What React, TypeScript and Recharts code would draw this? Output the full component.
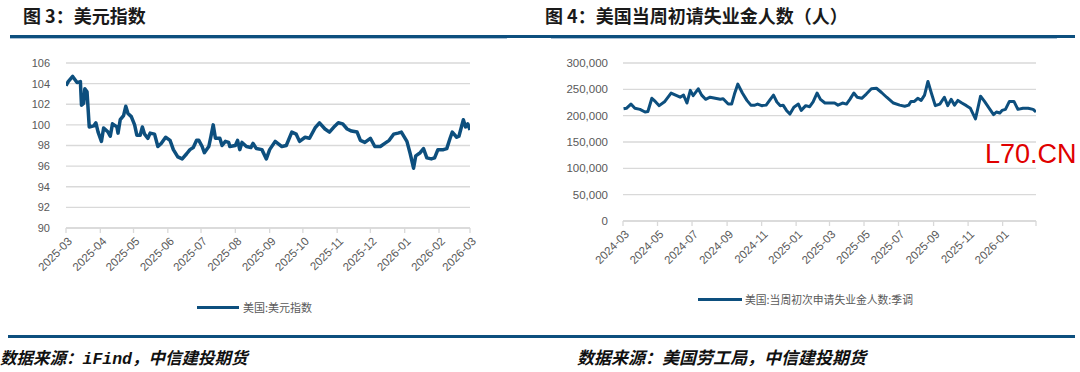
import React from 'react';
import { LineChart, Line, XAxis, YAxis, CartesianGrid } from 'recharts';

// ---------- Figure 3: US dollar index ----------
const DXY_DATES = [
  '2025-03-01','2025-03-03','2025-03-07','2025-03-11','2025-03-14','2025-03-15','2025-03-17','2025-03-18','2025-03-20','2025-03-22','2025-03-26','2025-03-28','2025-03-30',
  '2025-04-02','2025-04-04','2025-04-08','2025-04-10','2025-04-12','2025-04-16','2025-04-17','2025-04-19','2025-04-22','2025-04-24','2025-04-26','2025-04-29',
  '2025-05-02','2025-05-04','2025-05-07','2025-05-09','2025-05-11','2025-05-14','2025-05-16','2025-05-20','2025-05-23','2025-05-26','2025-05-30',
  '2025-06-03','2025-06-06','2025-06-10','2025-06-14','2025-06-18','2025-06-21','2025-06-24','2025-06-27','2025-06-29',
  '2025-07-02','2025-07-04','2025-07-08','2025-07-10','2025-07-12','2025-07-14','2025-07-18','2025-07-20','2025-07-23','2025-07-26','2025-07-27',
  '2025-08-01','2025-08-03','2025-08-05','2025-08-07','2025-08-11','2025-08-15','2025-08-17','2025-08-20','2025-08-25','2025-08-29',
  '2025-09-01','2025-09-06','2025-09-12','2025-09-16','2025-09-21','2025-09-25','2025-09-28',
  '2025-10-03','2025-10-07','2025-10-12','2025-10-16','2025-10-21','2025-10-25','2025-10-30',
  '2025-11-02','2025-11-06','2025-11-10','2025-11-14','2025-11-19','2025-11-22','2025-11-26',
  '2025-12-01','2025-12-05','2025-12-10','2025-12-14','2025-12-18','2025-12-22','2025-12-26','2025-12-29',
  '2026-01-03','2026-01-06','2026-01-09','2026-01-11','2026-01-15','2026-01-18','2026-01-21','2026-01-25','2026-01-28','2026-01-31',
  '2026-02-05','2026-02-08','2026-02-11','2026-02-13','2026-02-17','2026-02-19','2026-02-23','2026-02-25','2026-02-27','2026-03-01',
];
const DXY_VALUES = [
  103.8,104.2,104.7,104.1,104.2,101.9,102.1,103.5,103.2,99.8,
  99.9,100.2,99.3,98.4,99.7,99.3,98.9,100.1,99.8,99.2,
  100.5,100.9,101.8,101.1,100.8,100.0,99.0,99.0,99.8,99.1,
  98.7,99.2,99.1,97.9,98.2,98.8,98.5,97.6,96.9,96.7,
  97.2,97.6,97.8,98.5,98.5,97.9,97.3,97.9,98.9,100.0,
  98.7,98.7,98.0,98.4,98.3,97.9,98.0,98.5,97.6,98.3,
  97.9,97.8,98.2,97.7,97.6,96.7,97.6,98.4,97.9,98.0,
  99.3,99.1,98.4,98.8,98.7,99.7,100.2,99.6,99.3,99.9,
  100.2,100.1,99.6,99.4,99.3,98.5,98.3,98.7,97.9,97.9,
  98.2,98.5,99.1,99.2,99.3,98.4,97.2,95.8,97.0,97.3,
  97.7,96.8,96.7,96.8,97.6,97.6,97.7,98.7,99.3,98.8,
  98.9,100.5,99.8,100.1,99.5,
];
const DXY_TICK_DATES = [
  '2025-03-01','2025-04-01','2025-05-01','2025-06-01','2025-07-01','2025-08-01','2025-09-01',
  '2025-10-01','2025-11-01','2025-12-01','2026-01-01','2026-02-01','2026-03-01',
];
const DXY_Y_TICKS = [90, 92, 94, 96, 98, 100, 102, 104, 106];

// ---------- Figure 4: US initial jobless claims ----------
const CLAIMS_DATES = [
  '2024-03-02','2024-03-07','2024-03-15','2024-03-22','2024-03-31','2024-04-09','2024-04-14','2024-04-21','2024-04-27',
  '2024-05-04','2024-05-14','2024-05-25','2024-06-02','2024-06-10','2024-06-16','2024-06-22','2024-06-28',
  '2024-07-03','2024-07-12','2024-07-18','2024-07-25','2024-08-02','2024-08-11','2024-08-20','2024-08-25',
  '2024-09-03','2024-09-09','2024-09-14','2024-09-20','2024-09-28','2024-10-06','2024-10-13','2024-10-20','2024-10-25',
  '2024-11-01','2024-11-09','2024-11-17','2024-11-22','2024-11-28','2024-12-04','2024-12-09','2024-12-15','2024-12-21','2024-12-28',
  '2025-01-05','2025-01-10','2025-01-18','2025-01-25','2025-01-31','2025-02-07','2025-02-13','2025-02-21',
  '2025-03-01','2025-03-10','2025-03-16','2025-03-24','2025-03-31','2025-04-06','2025-04-13','2025-04-19','2025-04-27',
  '2025-05-05','2025-05-14','2025-05-23','2025-06-01','2025-06-10','2025-06-22',
  '2025-07-03','2025-07-12','2025-07-19','2025-07-23','2025-07-29','2025-08-04','2025-08-10','2025-08-16','2025-08-22','2025-08-28',
  '2025-09-04','2025-09-12','2025-09-20','2025-09-26','2025-10-02','2025-10-08','2025-10-14','2025-10-21','2025-10-29',
  '2025-11-05','2025-11-14','2025-11-18','2025-11-23','2025-11-30','2025-12-09','2025-12-16','2025-12-21','2025-12-27','2025-12-31',
  '2026-01-06','2026-01-13','2026-01-21','2026-01-28','2026-02-06','2026-02-15','2026-02-24','2026-03-01',
];
const CLAIMS_VALUES = [
  213000,214000,222000,214000,212000,207000,208000,233000,227000,219000,
  227000,243000,239000,235000,239000,224000,248000,238000,251000,239000,
  231000,235000,233000,231000,232000,222000,222000,241000,260000,243000,
  229000,220000,220000,222000,219000,220000,232000,239000,226000,219000,
  220000,210000,203000,216000,222000,210000,219000,217000,226000,243000,
  231000,224000,224000,224000,220000,224000,222000,231000,243000,235000,
  233000,241000,251000,252000,244000,235000,224000,220000,218000,220000,
  227000,227000,233000,229000,239000,265000,243000,219000,222000,235000,
  219000,231000,220000,229000,224000,219000,214000,194000,213000,237000,
  227000,213000,202000,207000,205000,210000,212000,227000,227000,212000,
  214000,214000,212000,207000,
];
const CLAIMS_TICK_DATES = [
  '2024-03-01','2024-05-01','2024-07-01','2024-09-01','2024-11-01','2025-01-01','2025-03-01',
  '2025-05-01','2025-07-01','2025-09-01','2025-11-01','2026-01-01','2026-03-01',
];
const CLAIMS_UNLABELED_TICK = '2026-03-01';
const CLAIMS_Y_TICKS = [0, 50000, 100000, 150000, 200000, 250000, 300000];

// ---------- helpers ----------
const toTs = (s: string) => {
  const [y, m, d] = s.split('-').map(Number);
  return Date.UTC(y, m - 1, d);
};
const fmtMonth = (ts: number) => {
  const dt = new Date(ts);
  return `${dt.getUTCFullYear()}-${String(dt.getUTCMonth() + 1).padStart(2, '0')}`;
};
const fmtThousands = (v: number) => v.toLocaleString('en-US');

const dxyData = DXY_DATES.map((d, i) => ({ t: toTs(d), v: DXY_VALUES[i] }));
const claimsData = CLAIMS_DATES.map((d, i) => ({ t: toTs(d), v: CLAIMS_VALUES[i] }));
const dxyTicks = DXY_TICK_DATES.map(toTs);
const claimsTicks = CLAIMS_TICK_DATES.map(toTs);
const claimsHidden = toTs(CLAIMS_UNLABELED_TICK);

const LINE_COLOR = '#0D4F7E';
const GRID_COLOR = '#D9D9D9';
const TEXT_GREY = '#595959';
const AXIS_FONT = "'Liberation Sans', Arial, sans-serif";
const CJK_FONT = "'Noto Sans CJK SC', 'Noto Sans', sans-serif";

const makeRotTick = (hidden?: number) => (props: any) => {
  const { x, y, payload } = props;
  if (hidden !== undefined && payload.value === hidden) return <g />;
  return (
    <g transform={`translate(${x + 4},${y + 4})`}>
      <text
        textAnchor="end"
        transform="rotate(-45)"
        fontSize={11.5}
        fontFamily={AXIS_FONT}
        fill={TEXT_GREY}
        dy="0.35em"
      >
        {fmtMonth(payload.value)}
      </text>
    </g>
  );
};

const abs = (left: number, top: number, extra: React.CSSProperties = {}): React.CSSProperties => ({
  position: 'absolute',
  left,
  top,
  ...extra,
});

export default function App() {
  return (
    <div
      style={{
        position: 'fixed',
        left: 0,
        top: 0,
        width: 1080,
        height: 372,
        background: '#ffffff',
        overflow: 'hidden',
      }}
    >
      {/* Titles */}
      <div style={abs(23, 4, { fontFamily: CJK_FONT, fontSize: 18, fontWeight: 700, color: '#1a1a1a', lineHeight: '22px', whiteSpace: 'nowrap' })}>
        图 3：美元指数
      </div>
      <div style={abs(545, 4, { fontFamily: CJK_FONT, fontSize: 18, fontWeight: 700, color: '#1a1a1a', lineHeight: '22px', whiteSpace: 'nowrap' })}>
        图 4：美国当周初请失业金人数（人）
      </div>

      {/* header rules */}
      <div style={abs(10, 35, { width: 541, height: 3, background: LINE_COLOR })} />
      <div style={abs(10, 38, { width: 497, height: 1, background: '#A9C1D6' })} />
      <div style={abs(507, 35, { width: 568, height: 2.5, background: LINE_COLOR })} />
      <div style={abs(551, 38, { width: 506, height: 1, background: '#A9C1D6' })} />

      {/* Left chart */}
      <div style={abs(0, 0)}>
        <LineChart width={480} height={300} data={dxyData} margin={{ top: 63, right: 10, bottom: 22, left: 0 }}>
          <CartesianGrid vertical={false} stroke={GRID_COLOR} strokeWidth={1.3} />
          <XAxis
            dataKey="t"
            type="number"
            scale="time"
            domain={[dxyTicks[0], dxyTicks[dxyTicks.length - 1]]}
            ticks={dxyTicks}
            interval={0}
            height={50}
            axisLine={{ stroke: GRID_COLOR, strokeWidth: 1.3 }}
            tickLine={{ stroke: GRID_COLOR, strokeWidth: 1.3 }}
            tickSize={5}
            tickMargin={2}
            tick={makeRotTick()}
            allowDataOverflow
          />
          <YAxis
            domain={[90, 106]}
            ticks={DXY_Y_TICKS}
            interval={0}
            width={66}
            axisLine={false}
            tickLine={false}
            tickSize={6}
            tickMargin={10}
            tick={{ fontSize: 11, fill: TEXT_GREY, fontFamily: AXIS_FONT }}
          />
          <Line
            type="linear"
            dataKey="v"
            stroke={LINE_COLOR}
            strokeWidth={3.5}
            dot={false}
            isAnimationActive={false}
            strokeLinejoin="round"
          />
        </LineChart>
      </div>

      {/* Right chart */}
      <div style={abs(540, 0)}>
        <LineChart width={500} height={300} data={claimsData} margin={{ top: 63, right: 4, bottom: 29, left: 0 }}>
          <CartesianGrid vertical={false} stroke={GRID_COLOR} strokeWidth={1.3} />
          <XAxis
            dataKey="t"
            type="number"
            scale="time"
            domain={[claimsTicks[0], claimsTicks[claimsTicks.length - 1]]}
            ticks={claimsTicks}
            interval={0}
            height={50}
            axisLine={{ stroke: GRID_COLOR, strokeWidth: 1.3 }}
            tickLine={{ stroke: GRID_COLOR, strokeWidth: 1.3 }}
            tickSize={5}
            tickMargin={2}
            tick={makeRotTick(claimsHidden)}
            allowDataOverflow
          />
          <YAxis
            domain={[0, 300000]}
            ticks={CLAIMS_Y_TICKS}
            interval={0}
            width={83}
            axisLine={false}
            tickLine={false}
            tickSize={5}
            tickMargin={10}
            tickFormatter={fmtThousands}
            tick={{ fontSize: 11.5, fill: TEXT_GREY, fontFamily: AXIS_FONT }}
          />
          <Line
            type="linear"
            dataKey="v"
            stroke={LINE_COLOR}
            strokeWidth={3}
            dot={false}
            isAnimationActive={false}
            strokeLinejoin="round"
          />
        </LineChart>
      </div>

      {/* Legends */}
      <div style={abs(197, 305.5, { width: 42, height: 3, background: LINE_COLOR })} />
      <div style={abs(243, 298, { fontFamily: CJK_FONT, fontSize: 11, color: TEXT_GREY, lineHeight: '18px', whiteSpace: 'nowrap' })}>
        美国:美元指数
      </div>
      <div style={abs(698, 297.5, { width: 44, height: 3, background: LINE_COLOR })} />
      <div style={abs(745, 290, { fontFamily: CJK_FONT, fontSize: 10.8, color: TEXT_GREY, lineHeight: '18px', whiteSpace: 'nowrap' })}>
        美国:当周初次申请失业金人数:季调
      </div>

      {/* Watermark */}
      <div style={abs(985, 141, { fontFamily: AXIS_FONT, fontSize: 27, color: '#E00000', lineHeight: '27px', whiteSpace: 'nowrap' })}>
        L70.CN
      </div>

      {/* bottom rule */}
      <div style={abs(8, 335, { width: 1067, height: 3, background: LINE_COLOR })} />

      {/* Footers */}
      <div style={abs(0, 346, { fontFamily: CJK_FONT, fontSize: 16.5, fontStyle: 'italic', fontWeight: 700, color: '#111', lineHeight: '22px', whiteSpace: 'nowrap' })}>
        数据来源：<span style={{ fontFamily: "'Liberation Mono', monospace" }}>iFind</span>，中信建投期货
      </div>
      <div style={abs(577, 346, { fontFamily: CJK_FONT, fontSize: 17, fontStyle: 'italic', fontWeight: 700, color: '#111', lineHeight: '22px', whiteSpace: 'nowrap' })}>
        数据来源：美国劳工局，中信建投期货
      </div>
    </div>
  );
}
